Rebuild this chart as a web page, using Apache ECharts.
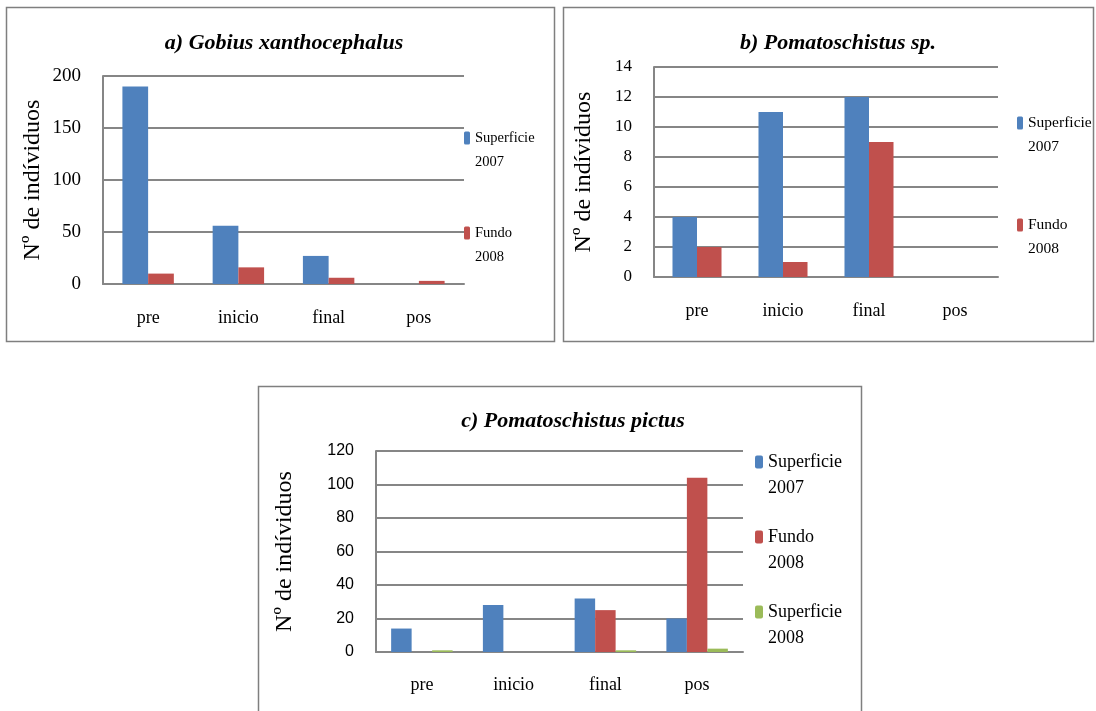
<!DOCTYPE html>
<html><head><meta charset="utf-8">
<script src="https://cdn.jsdelivr.net/npm/echarts@6/dist/echarts.min.js"></script>
<style>html,body{margin:0;padding:0;background:#fff}#c{width:1096px;height:711px}</style>
</head><body><div id="c"></div>
<script>
const categories = ['pre', 'inicio', 'final', 'pos'];
const aSup2007 = [190, 56, 27, 0];
const aFun2008 = [10, 16, 6, 3];
const bSup2007 = [4, 11, 12, 0];
const bFun2008 = [2, 1, 9, 0];
const cSup2007 = [14, 28, 32, 20];
const cFun2008 = [0, 0, 25, 104];
const cSup2008 = [1, 0, 1, 2];
const titles = ['a) Gobius xanthocephalus', 'b) Pomatoschistus sp.', 'c) Pomatoschistus pictus'];
const yName = 'Nº de indíviduos';
const nS07 = 'Superficie\n2007', nF08 = 'Fundo\n2008', nS08 = 'Superficie\n2008';

const BLUE = '#4f81bd', RED = '#c0504d', GREEN = '#9bbb59';
const serif = 'Liberation Serif';
const chart = echarts.init(document.getElementById('c'));

function xAx(i, margin, fs) {
  return { type: 'category', gridIndex: i, data: categories,
    axisLine: { lineStyle: { color: '#868686', width: 2 } }, axisTick: { show: false },
    axisLabel: { color: '#000', fontFamily: serif, fontSize: fs, margin: margin } };
}
function yAx(i, max, interval, fam, fs, gap) {
  return { type: 'value', gridIndex: i, min: 0, max: max, interval: interval,
    name: yName, nameLocation: 'middle', nameGap: gap, nameRotate: 90,
    nameTextStyle: { fontFamily: serif, fontSize: 24, color: '#000' },
    axisLine: { show: true, lineStyle: { color: '#868686', width: 2 } }, axisTick: { show: false },
    splitLine: { lineStyle: { color: '#868686', width: 2 } },
    axisLabel: { color: '#000', fontFamily: fam, fontSize: fs, margin: 22 } };
}
function legendStyle(fs, lh) {
  return { fontFamily: serif, fontSize: fs, lineHeight: lh, color: '#000' };
}
const legendFmt = name => ' \n' + name;
function bar(name, xi, data, color, gap) {
  return { type: 'bar', name: name, xAxisIndex: xi, yAxisIndex: xi, data: data,
    itemStyle: { color: color }, barGap: '0%', barCategoryGap: gap, animation: false };
}
const titleStyle = { fontFamily: serif, fontStyle: 'italic', fontWeight: 'bold', fontSize: 22, color: '#000' };

const option = {
  animation: false,
  backgroundColor: '#fff',
  graphic: [
    { type: 'rect', shape: { x: 6.5, y: 7.5, width: 548, height: 334 }, style: { fill: 'none', stroke: '#7f7f7f', lineWidth: 1.5 } },
    { type: 'rect', shape: { x: 563.5, y: 7.5, width: 530, height: 334 }, style: { fill: 'none', stroke: '#7f7f7f', lineWidth: 1.5 } },
    { type: 'rect', shape: { x: 258.5, y: 386.5, width: 603, height: 340 }, style: { fill: 'none', stroke: '#7f7f7f', lineWidth: 1.5 } }
  ],
  title: [
    { text: titles[0], left: 279, top: 27, textAlign: 'center', textStyle: titleStyle },
    { text: titles[1], left: 833, top: 27, textAlign: 'center', textStyle: titleStyle },
    { text: titles[2], left: 568, top: 405, textAlign: 'center', textStyle: titleStyle }
  ],
  legend: [
    { orient: 'vertical', left: 464, top: 138 - 36, padding: 0, itemWidth: 6, itemHeight: 13, itemGap: 23,
      data: [nS07, nF08], formatter: legendFmt, textStyle: legendStyle(14.5, 24), selectedMode: false },
    { orient: 'vertical', left: 1017, top: 123 - 36, padding: 0, itemWidth: 6, itemHeight: 13, itemGap: 30,
      data: [nS07, nF08], formatter: legendFmt, textStyle: legendStyle(15.5, 24), selectedMode: false },
    { orient: 'vertical', left: 755, top: 462 - 39, padding: 0, itemWidth: 8, itemHeight: 13, itemGap: -3,
      data: [nS07, nF08, nS08], formatter: legendFmt, textStyle: legendStyle(18, 26), selectedMode: false }
  ],
  grid: [
    { left: 103, top: 76, width: 361, height: 208 },
    { left: 654, top: 67, width: 344, height: 210 },
    { left: 376, top: 451, width: 367, height: 201 }
  ],
  xAxis: [xAx(0, 25, 18), xAx(1, 25, 18), xAx(2, 24, 18)],
  yAxis: [yAx(0, 200, 50, serif, 19, 58), yAx(1, 14, 2, serif, 17, 58), yAx(2, 120, 20, 'Liberation Sans', 16, 79)],
  series: [
    bar(nS07, 0, aSup2007, BLUE, '43%'),
    bar(nF08, 0, aFun2008, RED, '43%'),
    bar(nS07, 1, bSup2007, BLUE, '43%'),
    bar(nF08, 1, bFun2008, RED, '43%'),
    bar(nS07, 2, cSup2007, BLUE, '33%'),
    bar(nF08, 2, cFun2008, RED, '33%'),
    bar(nS08, 2, cSup2008, GREEN, '33%')
  ]
};
chart.setOption(option);
</script></body></html>
